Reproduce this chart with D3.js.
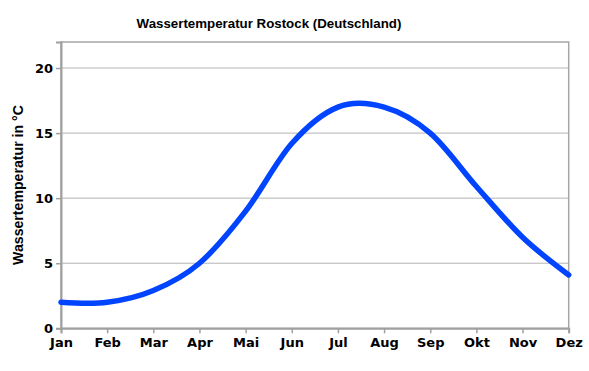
<!DOCTYPE html>
<html>
<head>
<meta charset="utf-8">
<script src="https://cdn.jsdelivr.net/npm/d3@7"></script>
<style>
  html, body { margin: 0; padding: 0; background: #fff; }
  svg { display: block; }
</style>
</head>
<body>
<script>
const months = ["Jan", "Feb", "Mar", "Apr", "Mai", "Jun", "Jul", "Aug", "Sep", "Okt", "Nov", "Dez"];
const waterTemp = [2.0, 2.0, 2.9, 5.0, 9.0, 14.2, 17.0, 17.0, 15.0, 10.9, 7.0, 4.1];
const yTicks = [0, 5, 10, 15, 20];
const titleText = "Wassertemperatur Rostock (Deutschland)";
const yTitleText = "Wassertemperatur in °C";

const W = 589, H = 371;
const pLeft = 61, pRight = 568.7, pTop = 42, pBottom = 328.3;

const svg = d3.select("body").append("svg").attr("width", W).attr("height", H);

const x = d3.scalePoint().domain(months).range([pLeft, pRight]);
const y = d3.scaleLinear().domain([0, 22]).range([pBottom, pTop]);

// grid
svg.append("g").selectAll("line").data(yTicks.filter(d => d > 0)).join("line")
  .attr("x1", pLeft).attr("x2", pRight)
  .attr("y1", d => y(d)).attr("y2", d => y(d))
  .attr("stroke", "#b4b4b4").attr("stroke-width", 1);

// frame
svg.append("rect").attr("x", pLeft).attr("y", pTop)
  .attr("width", pRight - pLeft).attr("height", pBottom - pTop)
  .attr("fill", "none").attr("stroke", "#a6a6a6").attr("stroke-width", 1.5);

// y axis
const yAxis = svg.append("g").attr("transform", `translate(${pLeft},0)`)
  .call(d3.axisLeft(y).tickValues(yTicks).tickSize(5).tickPadding(3));
yAxis.select(".domain").attr("stroke", "#a0a0a0").attr("stroke-width", 2);
yAxis.selectAll(".tick line").attr("stroke", "#a0a0a0").attr("stroke-width", 1.5);
yAxis.selectAll(".tick text").style("font-size", "13px").style("font-family", "'DejaVu Sans', Verdana, sans-serif").style("font-weight", "bold").attr("fill", "#000");

// x axis
const xAxis = svg.append("g").attr("transform", `translate(0,${pBottom})`)
  .call(d3.axisBottom(x).tickSize(5).tickPadding(4));
xAxis.select(".domain").attr("stroke", "#a0a0a0").attr("stroke-width", 2);
xAxis.selectAll(".tick line").attr("stroke", "#a0a0a0").attr("stroke-width", 1.5);
xAxis.selectAll(".tick text").style("font-size", "13px").style("font-family", "'DejaVu Sans', Verdana, sans-serif").style("font-weight", "bold").attr("fill", "#000");

// line
const line = d3.line()
  .x((d, i) => x(months[i]))
  .y(d => y(d))
  .curve(d3.curveCardinal.tension(0));
svg.append("path").datum(waterTemp)
  .attr("d", line)
  .attr("fill", "none")
  .attr("stroke", "#0044ff")
  .attr("stroke-width", 5.5)
  .attr("stroke-linecap", "round")
  .attr("stroke-linejoin", "round");

// titles
function fitText(sel, target) {
  const len = sel.node().getComputedTextLength();
  const fs = parseFloat(sel.style("font-size"));
  sel.style("font-size", (fs * target / len) + "px");
}
const title = svg.append("text")
  .attr("x", 269).attr("y", 27.5)
  .attr("text-anchor", "middle")
  .style("font-family", "'Liberation Sans', Arial, sans-serif")
  .style("font-weight", "bold")
  .style("font-size", "13px")
  .attr("fill", "#000")
  .text(titleText);
fitText(title, 265);

const yTitle = svg.append("text")
  .attr("transform", `translate(22.5,185) rotate(-90)`)
  .attr("text-anchor", "middle")
  .style("font-family", "'Liberation Sans', Arial, sans-serif")
  .style("font-weight", "bold")
  .style("font-size", "13px")
  .attr("fill", "#000")
  .text(yTitleText);
fitText(yTitle, 160);
</script>
</body>
</html>
